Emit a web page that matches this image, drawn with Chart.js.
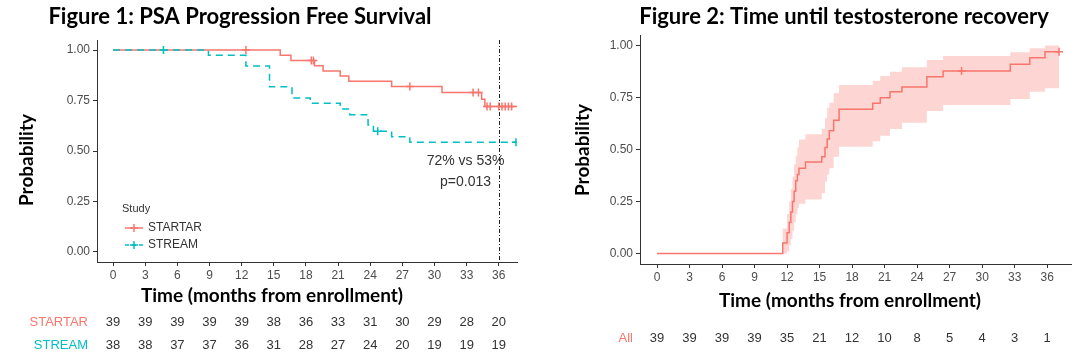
<!DOCTYPE html>
<html><head><meta charset="utf-8">
<script src="https://cdn.jsdelivr.net/npm/chart.js@4"></script>
<style>
html,body{margin:0;padding:0;background:#fff;}
#wrap{position:relative;width:1080px;height:355px;overflow:hidden;}
canvas{position:absolute;top:0;}
</style></head><body>
<div id="wrap">
<canvas id="c1" width="540" height="355" style="left:0"></canvas>
<canvas id="c2" width="540" height="355" style="left:540px"></canvas>
</div>
<script>
// ---------- data ----------
const timeTicks = [0,3,6,9,12,15,18,21,24,27,30,33,36];
const probTicks = [0,0.25,0.5,0.75,1];

// Figure 1: PSA progression free survival (Kaplan-Meier steps)
const startarTime = [0, 15.6, 16.6, 18.8, 19.6, 21.2, 22.0, 26.0, 30.7, 34.4, 34.7, 37.8];
const startarSurv = [1, 0.974, 0.949, 0.923, 0.897, 0.872, 0.846, 0.82, 0.79, 0.757, 0.72, 0.72];
const startarCensor = [12.4, 18.5, 18.7, 27.7, 33.6, 34.1, 34.9, 35.2, 36.0, 36.3, 36.6, 36.9, 37.2];
const streamTime = [0, 8.9, 12.4, 14.6, 16.7, 18.4, 21.2, 22.1, 23.8, 24.3, 26.0, 27.7, 37.6];
const streamSurv = [1, 0.974, 0.921, 0.818, 0.763, 0.736, 0.708, 0.68, 0.629, 0.598, 0.571, 0.543, 0.543];
const streamCensor = [4.7, 24.7, 37.6];
const startarRisk = [39,39,39,39,39,38,36,33,31,30,29,28,20];
const streamRisk  = [38,38,37,37,36,31,28,27,24,20,19,19,19];
const landmark = 36;
const annotLines = ['72% vs 53%', 'p=0.013'];

// Figure 2: time until testosterone recovery (cumulative, with CI)
const recTime = [0, 11.6, 12.0, 12.2, 12.35, 12.5, 12.65, 12.8, 12.95, 13.1, 13.7, 15.2, 15.5, 15.7, 15.9, 16.3, 16.8, 19.9, 20.6, 21.5, 22.6, 24.9, 26.4, 32.6, 34.4, 35.8, 37.1];
const recEst  = [0, 0.051, 0.10, 0.15, 0.20, 0.25, 0.30, 0.35, 0.38, 0.41, 0.44, 0.465, 0.51, 0.55, 0.59, 0.64, 0.693, 0.722, 0.749, 0.778, 0.80, 0.85, 0.877, 0.909, 0.941, 0.97, 0.97];
const recLow  = [0, 0.0, 0.01, 0.04, 0.07, 0.11, 0.15, 0.19, 0.22, 0.24, 0.26, 0.29, 0.345, 0.38, 0.41, 0.465, 0.513, 0.54, 0.566, 0.598, 0.629, 0.685, 0.714, 0.743, 0.778, 0.794, 0.794];
const recHigh = [0, 0.12, 0.19, 0.25, 0.31, 0.37, 0.43, 0.47, 0.51, 0.548, 0.573, 0.60, 0.65, 0.70, 0.725, 0.77, 0.81, 0.83, 0.853, 0.874, 0.895, 0.93, 0.949, 0.967, 0.986, 1.0, 1.0];
const recCensor = [28.1, 37.1];
const allRisk = [39,39,39,39,35,21,12,10,8,5,4,3,1];

// ---------- styling ----------
const RED = '#F8766D', CYAN = '#00BFC4', AXIS = '#333333', TICK = '#4D4D4D';
const TITLE_FONT = 'bold 22px Lato';
const AXTITLE_FONT = 'bold 19px Lato';
const SANS = '"Liberation Sans", Arial, sans-serif';

function stepAt(ts, vs, t) { let v = vs[0]; for (let i = 0; i < ts.length; i++) { if (ts[i] <= t) v = vs[i]; } return v; }
function pts(ts, vs) { return ts.map((t, i) => ({x: t, y: vs[i]})); }

function makeScales(xmin, xmax, ymin, ymax, yWidth) {
  const common = {
    grid: {display: true, drawOnChartArea: false, drawTicks: true, tickLength: 4, color: AXIS, lineWidth: 1},
    border: {display: true, color: AXIS, width: 1},
  };
  return {
    x: Object.assign({}, common, {
      type: 'linear', min: xmin, max: xmax,
      afterBuildTicks: s => { s.ticks = timeTicks.map(v => ({value: v})); },
      afterFit: s => { s.height = 20; },
      ticks: {font: {family: SANS, size: 12}, color: TICK, padding: 2, maxRotation: 0, autoSkip: false}
    }),
    y: Object.assign({}, common, {
      type: 'linear', min: ymin, max: ymax,
      afterBuildTicks: s => { s.ticks = probTicks.map(v => ({value: v})); },
      afterFit: s => { s.width = yWidth; },
      ticks: {font: {family: SANS, size: 12}, color: TICK, padding: 3, callback: v => Number(v).toFixed(2)}
    })
  };
}

function drawText(ctx, txt, x, y, font, color, align, rot) {
  ctx.save();
  ctx.font = font; ctx.fillStyle = color; ctx.textAlign = align || 'center'; ctx.textBaseline = 'middle';
  ctx.translate(x, y);
  if (rot) ctx.rotate(rot);
  ctx.fillText(txt, 0, 0);
  ctx.restore();
}

function drawCross(ctx, x, y, r, color) {
  ctx.save(); ctx.strokeStyle = color; ctx.lineWidth = 1.5;
  ctx.beginPath(); ctx.moveTo(x - r, y); ctx.lineTo(x + r, y); ctx.moveTo(x, y - r); ctx.lineTo(x, y + r); ctx.stroke();
  ctx.restore();
}

// ---------- Figure 1 ----------
const decorLeft = {
  id: 'decorLeft',
  beforeDatasetsDraw(chart) {
    const {ctx, chartArea, scales: {x}} = chart;
    const vx = Math.round(x.getPixelForValue(landmark)) + 0.5;
    ctx.save(); ctx.strokeStyle = '#222'; ctx.lineWidth = 1; ctx.setLineDash([4, 2, 1, 2]);
    ctx.beginPath(); ctx.moveTo(vx, chartArea.top); ctx.lineTo(vx, chartArea.bottom); ctx.stroke();
    ctx.restore();
  },
  afterDraw(chart) {
    const {ctx, scales: {x}} = chart;
    drawText(ctx, 'Figure 1: PSA Progression Free Survival', 240, 17, TITLE_FONT, '#000');
    drawText(ctx, 'Probability', 27, 160, AXTITLE_FONT, '#000', 'center', -Math.PI / 2);
    drawText(ctx, 'Time (months from enrollment)', 272, 296, AXTITLE_FONT, '#000');
    // annotation
    drawText(ctx, annotLines[0], x.getPixelForValue(32.9), 161, '14px ' + SANS, '#333');
    drawText(ctx, annotLines[1], x.getPixelForValue(32.9), 182, '14px ' + SANS, '#333');
    // legend
    drawText(ctx, 'Study', 122, 209, '11px ' + SANS, '#333', 'left');
    const items = [['STARTAR', RED, [], 228], ['STREAM', CYAN, [4, 3], 245]];
    items.forEach(([lab, col, dash, ly]) => {
      ctx.save(); ctx.strokeStyle = col; ctx.lineWidth = 1.5; ctx.setLineDash(dash);
      ctx.beginPath(); ctx.moveTo(125, ly); ctx.lineTo(143, ly); ctx.stroke(); ctx.restore();
      drawCross(ctx, 134, ly, 4, col);
      drawText(ctx, lab, 148, ly, '12px ' + SANS, '#333', 'left');
    });
    // risk table
    drawText(ctx, 'STARTAR', 88, 322, '13px ' + SANS, RED, 'right');
    drawText(ctx, 'STREAM', 88, 345, '13px ' + SANS, CYAN, 'right');
    timeTicks.forEach((t, i) => {
      const px = x.getPixelForValue(t);
      drawText(ctx, String(startarRisk[i]), px, 322, '13px ' + SANS, '#333');
      drawText(ctx, String(streamRisk[i]), px, 345, '13px ' + SANS, '#333');
    });
  }
};

new Chart(document.getElementById('c1'), {
  type: 'line',
  data: {datasets: [
    {label: 'STREAM censor', data: streamCensor.map(t => ({x: t, y: stepAt(streamTime, streamSurv, t)})), showLine: false, pointStyle: 'cross', pointRadius: 4, borderColor: CYAN, borderWidth: 1.5},
    {label: 'STARTAR censor', data: startarCensor.map(t => ({x: t, y: stepAt(startarTime, startarSurv, t)})), showLine: false, pointStyle: 'cross', pointRadius: 4, borderColor: RED, borderWidth: 1.5},
    {label: 'STREAM', data: pts(streamTime, streamSurv), stepped: true, borderColor: CYAN, borderWidth: 1.5, borderDash: [7, 5], pointRadius: 0, fill: false},
    {label: 'STARTAR', data: pts(startarTime, startarSurv), stepped: true, borderColor: RED, borderWidth: 1.5, pointRadius: 0, fill: false}
  ]},
  options: {
    responsive: false, animation: false, devicePixelRatio: 1,
    layout: {padding: {top: 40, right: 23, bottom: 73, left: 0}},
    plugins: {legend: {display: false}, tooltip: {enabled: false}, title: {display: false}},
    scales: makeScales(-1.5, 37.7, -0.05, 1.05, 97)
  },
  plugins: [decorLeft]
});

// ---------- Figure 2 ----------
const decorRight = {
  id: 'decorRight',
  afterDraw(chart) {
    const {ctx, scales: {x}} = chart;
    drawText(ctx, 'Figure 2: Time until testosterone recovery', 304, 17, TITLE_FONT, '#000');
    drawText(ctx, 'Probability', 43, 150, AXTITLE_FONT, '#000', 'center', -Math.PI / 2);
    drawText(ctx, 'Time (months from enrollment)', 310, 301, AXTITLE_FONT, '#000');
    drawText(ctx, 'All', 93, 338, '13px ' + SANS, RED, 'right');
    timeTicks.forEach((t, i) => {
      drawText(ctx, String(allRisk[i]), x.getPixelForValue(t), 338, '13px ' + SANS, '#333');
    });
  }
};

new Chart(document.getElementById('c2'), {
  type: 'line',
  data: {datasets: [
    {label: 'censor', data: recCensor.map(t => ({x: t, y: stepAt(recTime, recEst, t)})), showLine: false, pointStyle: 'cross', pointRadius: 4, borderColor: RED, borderWidth: 1.5},
    {label: 'All', data: pts(recTime, recEst), stepped: true, borderColor: RED, borderWidth: 1.5, pointRadius: 0, fill: false},
    {label: 'upper', data: pts(recTime, recHigh), stepped: true, borderColor: 'transparent', borderWidth: 1, pointRadius: 0, fill: '+1', backgroundColor: 'rgba(248,118,109,0.3)'},
    {label: 'lower', data: pts(recTime, recLow), stepped: true, borderColor: 'transparent', borderWidth: 1, pointRadius: 0, fill: false}
  ]},
  options: {
    responsive: false, animation: false, devicePixelRatio: 1,
    layout: {padding: {top: 35, right: 9, bottom: 71, left: 0}},
    plugins: {legend: {display: false}, tooltip: {enabled: false}, title: {display: false}},
    scales: makeScales(-1.57, 38.2, -0.05, 1.05, 100)
  },
  plugins: [decorRight]
});
</script>
</body></html>
